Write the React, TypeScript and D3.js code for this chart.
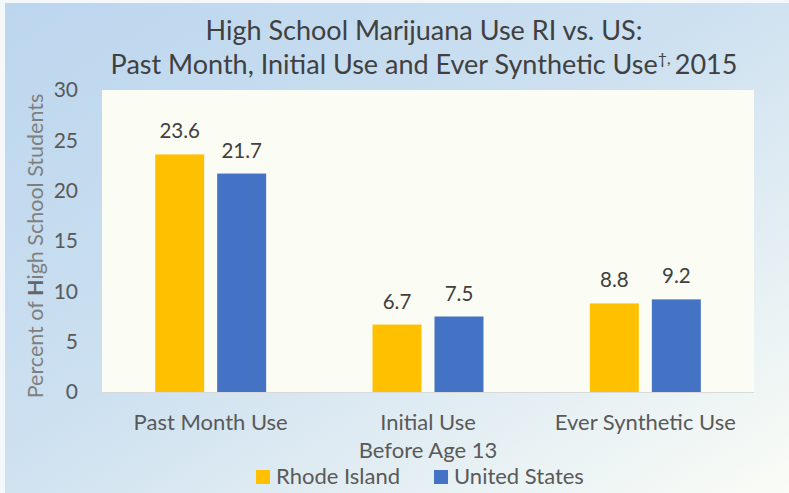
import React, { useEffect, useRef } from 'react';
import * as d3 from 'd3';

const categories = ['Past Month Use', 'Initial Use', 'Ever Synthetic Use'];
const categorySubLabels = ['', 'Before Age 13', ''];
const seriesNames = ['Rhode Island', 'United States'];
const rhodeIsland = [23.6, 6.7, 8.8];
const unitedStates = [21.7, 7.5, 9.2];
const yTicks = [0, 5, 10, 15, 20, 25, 30];
const colors = ['#FFC000', '#4472C4'];

const W = 789, H = 493;
const FONT = 'Lato, "Open Sans", sans-serif';

export default function App() {
  const ref = useRef<SVGSVGElement>(null);

  useEffect(() => {
    const svg = d3.select(ref.current);
    svg.selectAll('*').remove();

    const defs = svg.append('defs');
    const grad = defs.append('linearGradient')
      .attr('id', 'bg').attr('x1', '0').attr('y1', '0').attr('x2', '1').attr('y2', '1');
    grad.append('stop').attr('offset', '0%').attr('stop-color', '#BCD6EE');
    grad.append('stop').attr('offset', '45%').attr('stop-color', '#CCE0F0');
    grad.append('stop').attr('offset', '100%').attr('stop-color', '#FAFCF6');

    svg.append('rect').attr('width', W).attr('height', H).attr('fill', '#F4F8FB');
    svg.append('rect').attr('x', 5).attr('y', 3).attr('width', W - 5).attr('height', H - 3)
      .attr('fill', 'url(#bg)');

    const left = 102, right = 754, top = 90, bottom = 392;

    svg.append('rect').attr('x', left).attr('y', top)
      .attr('width', right - left).attr('height', bottom - top).attr('fill', '#FBFCF3');

    const y = d3.scaleLinear().domain([0, 30]).range([bottom, top]);
    const x0 = d3.scaleBand<string>().domain(categories).range([left, right]);
    const x1 = d3.scaleBand<string>().domain(seriesNames).range([0, x0.bandwidth()])
      .paddingInner(0.21).paddingOuter(0.858);

    const data = categories.map((c, i) => ({ c, vals: [rhodeIsland[i], unitedStates[i]] }));

    const g = svg.append('g').selectAll('g').data(data).enter().append('g')
      .attr('transform', d => 'translate(' + x0(d.c) + ',0)');

    seriesNames.forEach((s, si) => {
      g.append('rect')
        .attr('x', x1(s)!)
        .attr('y', d => y(d.vals[si]))
        .attr('width', x1.bandwidth())
        .attr('height', d => bottom - y(d.vals[si]))
        .attr('fill', colors[si]);
      g.append('text')
        .attr('x', x1(s)! + x1.bandwidth() / 2)
        .attr('y', d => y(d.vals[si]) - 16)
        .attr('text-anchor', 'middle')
        .attr('font-size', 20.5)
        .attr('fill', '#404040')
        .text(d => d.vals[si].toFixed(1));
    });

    // baseline
    svg.append('line').attr('x1', left).attr('x2', right).attr('y1', bottom + 0.5).attr('y2', bottom + 0.5)
      .attr('stroke', '#D9D9D9').attr('stroke-width', 1);

    // y ticks
    svg.append('g').selectAll('text').data(yTicks).enter().append('text')
      .attr('x', 78).attr('y', d => y(d)).attr('dy', '0.35em')
      .attr('text-anchor', 'end').attr('font-size', 21).attr('fill', '#595959')
      .text(d => d);

    // category labels
    svg.append('g').selectAll('text').data(categories).enter().append('text')
      .attr('x', d => x0(d)! + x0.bandwidth() / 2).attr('y', 430)
      .attr('text-anchor', 'middle').attr('font-size', 22).attr('fill', '#595959')
      .text(d => d);
    svg.append('g').selectAll('text').data(categorySubLabels).enter().append('text')
      .attr('x', (d, i) => x0(categories[i])! + x0.bandwidth() / 2).attr('y', 458)
      .attr('text-anchor', 'middle').attr('font-size', 22).attr('fill', '#595959')
      .text(d => d);

    // y title
    const yt = svg.append('text')
      .attr('transform', 'translate(43,' + 246 + ') rotate(-90)')
      .attr('text-anchor', 'middle').attr('font-size', 21.5).attr('fill', '#7F7F7F');
    yt.append('tspan').text('Percent of ');
    yt.append('tspan').attr('font-weight', 'bold').attr('fill', '#666').text('H');
    yt.append('tspan').text('igh School Students');

    // title
    svg.append('text').attr('text-anchor', 'middle').attr('font-size', 27).attr('fill', '#404040')
      .attr('x', 424).attr('y', 40).text('High School Marijuana Use RI vs. US:');
    const t2 = svg.append('text').attr('text-anchor', 'middle').attr('font-size', 27).attr('fill', '#404040')
      .attr('x', 424).attr('y', 74);
    t2.append('tspan').text('Past Month, Initial Use and Ever Synthetic Use');
    t2.append('tspan').attr('font-size', 16).attr('dy', -10).text('†, ');
    t2.append('tspan').attr('dy', 10).text('2015');

    // legend
    const leg = svg.append('g');
    const legX = [256, 434];
    seriesNames.forEach((s, i) => {
      leg.append('rect').attr('x', legX[i]).attr('y', 470).attr('width', 14).attr('height', 14).attr('fill', colors[i]);
      leg.append('text').attr('x', legX[i] + 20).attr('y', 484).attr('font-size', 22).attr('fill', '#595959').text(s);
    });
  }, []);

  return (
    <svg ref={ref} width={W} height={H}
      style={{ position: 'absolute', left: 0, top: 0, fontFamily: FONT }} />
  );
}
